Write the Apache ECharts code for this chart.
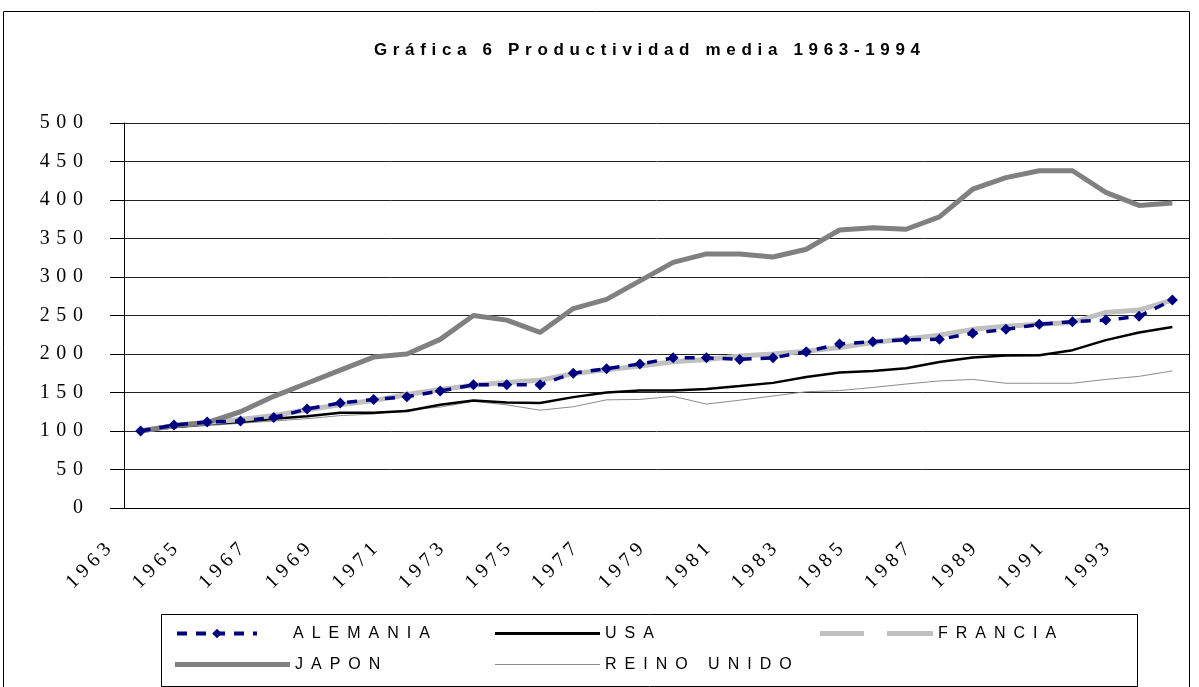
<!DOCTYPE html>
<html>
<head>
<meta charset="utf-8">
<script src="https://cdn.jsdelivr.net/npm/echarts@6/dist/echarts.min.js"></script>
<style>
  html, body { margin: 0; padding: 0; background: #fff; }
  #chart { width: 1199px; height: 687px; }
</style>
</head>
<body>
<div id="chart"></div>
<script>
var TITLE = 'Gráfica 6 Productividad media 1963-1994';

var years = ['1963', '1964', '1965', '1966', '1967', '1968', '1969', '1970',
  '1971', '1972', '1973', '1974', '1975', '1976', '1977', '1978',
  '1979', '1980', '1981', '1982', '1983', '1984', '1985', '1986',
  '1987', '1988', '1989', '1990', '1991', '1992', '1993', '1994'];

var alemania = [100, 107.7, 111.6, 113, 117.5, 128.5, 136.5, 140.8,
  144.5, 152, 160, 160, 160, 175, 181, 187,
  195, 195, 193, 195, 203, 213, 216, 218.5,
  219, 227, 232, 238.5, 242, 244, 249, 270];

var usa = [100, 105, 109, 111.6, 116, 119.3, 123.6, 123.6,
  126, 134, 139.5, 137, 136.5, 144, 150, 152.7,
  152.7, 154.6, 158.5, 162.5, 170, 176, 178, 181.5,
  189.5, 195.5, 198, 198.5, 205, 218, 228, 235];

var francia = [100, 107, 111, 115, 120, 127.5, 134, 139.5,
  147.5, 154, 159.5, 163, 166, 174.5, 179.5, 184.5,
  190, 193, 197.5, 200, 203.5, 208.5, 215, 219.5,
  224.5, 232, 236, 238.7, 241, 254, 257, 270];

var japon = [100, 107, 111, 125, 145, 162, 179, 196,
  200, 219, 250, 244, 228, 259, 271, 295,
  319, 330, 330, 326, 336, 361, 364, 362,
  378, 414, 429, 438, 438, 410, 393, 396];

var reinoUnido = [100, 104, 107, 110, 113, 116, 120, 122,
  127.5, 131, 138.5, 134, 127, 131.5, 140.5, 141,
  145, 135, 140, 145.5, 151, 152.5, 156.5, 161,
  165, 167, 162, 162, 162, 167, 171, 178];

// Excel-style wide letter spacing
function spaced(s, sep) {
  return s.split('').join(sep);
}

// one legend per item so the entries sit in fixed columns like the original
function legendAt(name, left, rowY, w, h, icon, textPad) {
  var item = { name: name };
  if (icon) item.icon = icon;
  return {
    data: [item],
    left: left,
    top: rowY - 6.5,
    padding: 0,
    itemWidth: w,
    itemHeight: h,
    selectedMode: false,
    lineStyle: { width: 4 },
    textStyle: {
      fontFamily: 'Liberation Sans', fontSize: 16, color: '#000',
      padding: [0, 0, 0, textPad || 0]
    },
    formatter: function (n) { return spaced(n, '\u2002'); }
  };
}

var chart = echarts.init(document.getElementById('chart'));

chart.setOption({
  animation: false,
  backgroundColor: '#fff',
  title: {
    text: spaced(TITLE, '\u2004'),
    left: 642,
    top: 37,
    textAlign: 'center',
    textStyle: { fontFamily: 'Liberation Sans', fontSize: 17, fontWeight: 'bold', color: '#000' }
  },
  grid: { left: 124, right: 10, top: 123, bottom: 179 },
  legend: [
    legendAt('ALEMANIA', 175, 632, 80, 12, null, 31),
    legendAt('USA', 495, 632, 105, 3, 'rect'),
    legendAt('FRANCIA', 820, 632, 113, 5, 'path://M0,0h44v5h-44z M67,0h46v5h-46z'),
    legendAt('JAPON', 175, 663, 115, 5, 'rect'),
    legendAt('REINO UNIDO', 495, 663, 105, 1, 'rect')
  ],
  xAxis: {
    type: 'category',
    data: years,
    boundaryGap: true,
    axisLine: { lineStyle: { color: '#000', width: 1 } },
    axisTick: { interval: 0, length: 8, lineStyle: { color: '#000' } },
    axisLabel: {
      interval: 1,
      rotate: 45,
      margin: 6,
      padding: [0, 46, 0, 0],
      fontFamily: 'Liberation Serif',
      fontSize: 20,
      color: '#000',
      formatter: function (v) { return spaced(v, '\u2005'); }
    },
    splitLine: { show: false }
  },
  yAxis: {
    type: 'value',
    min: 0,
    max: 500,
    interval: 50,
    axisLine: { show: true, lineStyle: { color: '#000', width: 1 } },
    axisTick: { show: true, length: 14, lineStyle: { color: '#000' } },
    axisLabel: {
      margin: 41,
      fontFamily: 'Liberation Serif',
      fontSize: 20,
      color: '#000',
      formatter: function (v) { return spaced(String(v), '\u2004'); }
    },
    splitLine: { lineStyle: { color: '#222', width: 1 } }
  },
  graphic: [
    {
      type: 'rect',
      shape: { x: 3.5, y: 11.5, width: 1186, height: 700 },
      style: { fill: null, stroke: '#000', lineWidth: 1 },
      silent: true,
      z: -1
    },
    {
      type: 'rect',
      shape: { x: 161.5, y: 614.5, width: 976, height: 72 },
      style: { fill: null, stroke: '#000', lineWidth: 1 },
      silent: true,
      z: -1
    }
  ],
  series: [
    {
      name: 'USA',
      type: 'line',
      data: usa,
      symbol: 'none',
      lineStyle: { color: '#000', width: 2.5 },
      itemStyle: { color: '#000' },
      z: 3
    },
    {
      name: 'FRANCIA',
      type: 'line',
      data: francia,
      symbol: 'none',
      lineStyle: { color: '#c0c0c0', width: 5 },
      itemStyle: { color: '#c0c0c0' },
      z: 4
    },
    {
      name: 'JAPON',
      type: 'line',
      data: japon,
      symbol: 'none',
      lineStyle: { color: '#808080', width: 5 },
      itemStyle: { color: '#808080' },
      z: 4
    },
    {
      name: 'REINO UNIDO',
      type: 'line',
      data: reinoUnido,
      symbol: 'none',
      lineStyle: { color: '#8c8c8c', width: 1 },
      itemStyle: { color: '#8c8c8c' },
      z: 2
    },
    {
      name: 'ALEMANIA',
      type: 'line',
      data: alemania,
      symbol: 'diamond',
      symbolSize: 11,
      showAllSymbol: true,
      lineStyle: { color: '#000080', width: 3.5, type: [10, 9] },
      itemStyle: { color: '#000080' },
      z: 5
    }
  ]
});
</script>
</body>
</html>
